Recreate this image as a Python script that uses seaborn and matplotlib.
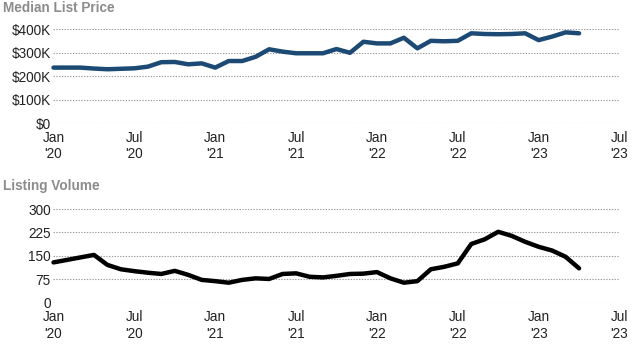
import matplotlib
matplotlib.use("Agg")
import matplotlib.pyplot as plt
import seaborn as sns
import pandas as pd
import numpy as np

# ---- data ----
months = pd.date_range("2020-01-01", "2023-04-01", freq="MS")
price_k = [237, 237, 237, 233, 230, 232, 234, 241, 260, 261, 251, 255,
           237, 265, 265, 283, 315, 305, 298, 298, 298, 316, 300, 347,
           340, 340, 364, 319, 351, 349, 351, 383, 380, 379, 380, 383,
           354, 369, 387, 383]
volume = [129, 137, 145, 153, 121, 107, 101, 96, 92, 102, 89, 73,
          69, 64, 73, 78, 76, 92, 94, 83, 81, 86, 92, 93,
          98, 78, 64, 69, 107, 115, 126, 188, 203, 227, 214, 195,
          179, 167, 147, 110]
x_tick_labels = ["Jan\n'20", "Jul\n'20", "Jan\n'21", "Jul\n'21",
                 "Jan\n'22", "Jul\n'22", "Jan\n'23", "Jul\n'23"]
price_ticks = [0, 100, 200, 300, 400]
price_tick_labels = ["$0", "$100K", "$200K", "$300K", "$400K"]
volume_ticks = [0, 75, 150, 225, 300]
volume_tick_labels = ["0", "75", "150", "225", "300"]
titles = ["Median List Price", "Listing Volume"]

df = pd.DataFrame({"idx": np.arange(len(months)), "price": price_k, "volume": volume})

sns.set_theme(style="white")
plt.rcParams["font.family"] = ["Liberation Sans", "DejaVu Sans"]

W, H = 633, 350
fig = plt.figure(figsize=(W / 100, H / 100), dpi=100)

def ax_rect(left, top, right, bottom):
    return [left / W, 1 - bottom / H, (right - left) / W, (bottom - top) / H]

ax1 = fig.add_axes(ax_rect(53.5, 29.3, 619.5, 123.3))
ax2 = fig.add_axes(ax_rect(53.5, 209, 619.5, 302.7))

specs = [
    (ax1, "price", "#1c4a74", price_ticks, price_tick_labels, 400),
    (ax2, "volume", "#000000", volume_ticks, volume_tick_labels, 300),
]
for ax, col, color, yt, ytl, ymax in specs:
    for v in yt:
        ax.axhline(v, color="#9a9a9a", lw=0.8, ls=(0, (1.2, 1.3)), zorder=0)
    sns.lineplot(data=df, x="idx", y=col, ax=ax, color=color, lw=3.2,
                 clip_on=False, zorder=3)
    ax.set_xlim(0, 42)
    ax.set_ylim(0, ymax)
    ax.set_xticks(np.arange(0, 43, 6))
    ax.set_xticklabels(x_tick_labels, fontsize=9.8, color="#222222", linespacing=1.2)
    ax.set_yticks(yt)
    ax.set_yticklabels(ytl, fontsize=9.8, color="#222222")
    ax.tick_params(axis="both", length=0)
    ax.tick_params(axis="x", pad=5.5)
    ax.tick_params(axis="y", pad=2)
    ax.set_xlabel("")
    ax.set_ylabel("")
    for s in ax.spines.values():
        s.set_visible(False)
    ax.grid(False)
    ax.patch.set_alpha(0)

fig.text(3 / W, 1 - 1 / H, titles[0], fontsize=9.8, fontweight="bold",
         color="#8c8c8c", va="top", ha="left")
fig.text(3 / W, 1 - 179 / H, titles[1], fontsize=9.8, fontweight="bold",
         color="#8c8c8c", va="top", ha="left")

fig.savefig("out.png", dpi=100)
